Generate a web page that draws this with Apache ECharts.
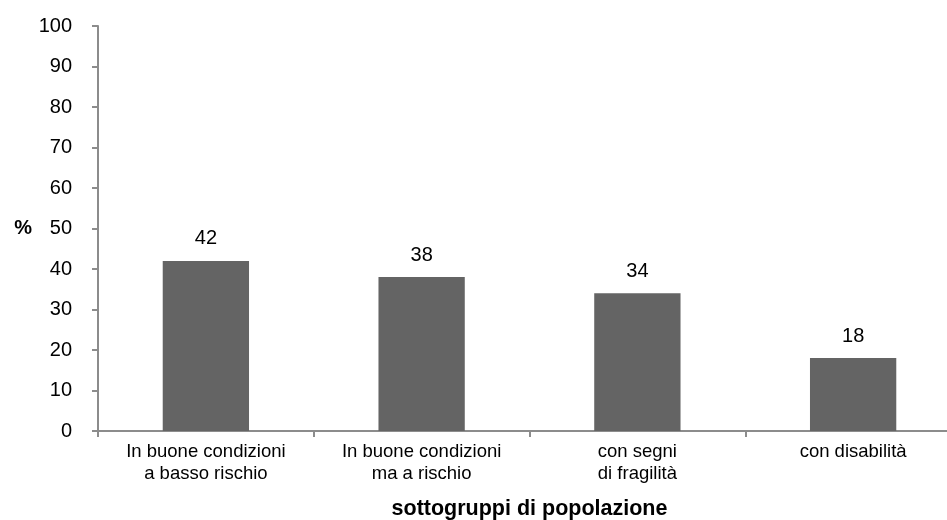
<!DOCTYPE html>
<html><head><meta charset="utf-8">
<script src="https://cdn.jsdelivr.net/npm/echarts@6/dist/echarts.min.js"></script>
<style>html,body{margin:0;padding:0;background:#fff}#c{width:947px;height:520px}</style>
</head><body><div id="c"></div>
<script>
const categories = ["In buone condizioni\na basso rischio", "In buone condizioni\nma a rischio", "con segni\ndi fragilità", "con disabilità"];
const values = [42, 38, 34, 18];
const yTicks = [0, 10, 20, 30, 40, 50, 60, 70, 80, 90, 100];

const chart = echarts.init(document.getElementById('c'));
const font = "'Liberation Sans', Arial, sans-serif";
chart.setOption({
  animation: false,
  grid: {left: 98, right: -14, top: 26, bottom: 89, containLabel: false, outerBoundsMode: 'none'},
  xAxis: {
    type: 'category', data: categories,
    axisLine: {lineStyle: {color: '#8c8c8c', width: 2}},
    axisTick: {show: true, length: 6, lineStyle: {color: '#8c8c8c', width: 2}},
    axisLabel: {color: '#000', fontSize: 18.5, fontFamily: font, lineHeight: 22, margin: 10, interval: 0},
    name: 'sottogruppi di popolazione', nameLocation: 'middle', nameGap: 67,
    nameTextStyle: {color: '#000', fontSize: 21.5, fontWeight: 'bold', fontFamily: font}
  },
  yAxis: {
    type: 'value', min: yTicks[0], max: yTicks[yTicks.length - 1], interval: 10,
    axisLine: {show: true, lineStyle: {color: '#8c8c8c', width: 2}},
    axisTick: {show: true, length: 6, lineStyle: {color: '#8c8c8c', width: 2}},
    splitLine: {show: false},
    axisLabel: {color: '#000', fontSize: 20, fontFamily: font, margin: 26},
    name: '%', nameLocation: 'middle', nameGap: 66, nameRotate: 0,
    nameTextStyle: {color: '#000', fontSize: 20, fontWeight: 'bold', fontFamily: font, padding: [6, 0, 0, 0]}
  },
  series: [{
    type: 'bar', data: values, barWidth: '40%',
    itemStyle: {color: '#646464'},
    label: {show: true, position: 'top', distance: 12, color: '#000', fontSize: 20, fontFamily: font}
  }]
});
</script></body></html>
